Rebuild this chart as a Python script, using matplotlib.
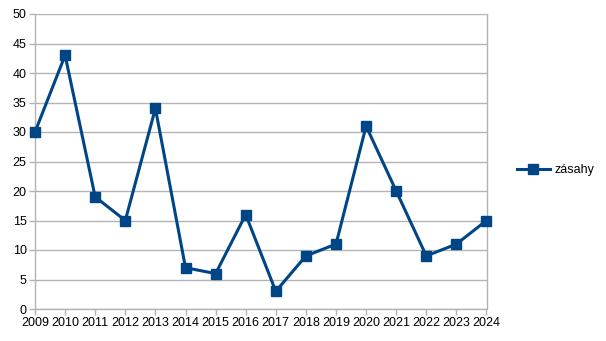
import matplotlib
matplotlib.use("Agg")
import matplotlib.pyplot as plt

years = ["2009", "2010", "2011", "2012", "2013", "2014", "2015", "2016",
         "2017", "2018", "2019", "2020", "2021", "2022", "2023", "2024"]
zasahy = [30, 43, 19, 15, 34, 7, 6, 16, 3, 9, 11, 31, 20, 9, 11, 15]
yticks = [0, 5, 10, 15, 20, 25, 30, 35, 40, 45, 50]

plt.rcParams['font.family'] = ['Liberation Sans', 'DejaVu Sans']
W, H = 606, 341
fig = plt.figure(figsize=(W / 100, H / 100), dpi=100)
ax = fig.add_axes([35 / W, (H - 309) / H, (486.5 - 35) / W, (309 - 14) / H])

color = '#004586'
grey = '#b3b3b3'
x = list(range(len(years)))
ax.plot(x, zasahy, color=color, linewidth=2.2, marker='s', markersize=7,
        markeredgecolor=color, markerfacecolor=color, label='zásahy',
        zorder=3, clip_on=False)

ax.set_xlim(0, len(years) - 1)
ax.set_ylim(0, 50)
ax.set_xticks(x)
ax.set_xticklabels(years)
ax.set_yticks(yticks)
ax.yaxis.grid(True, color=grey, linewidth=1)
ax.set_axisbelow(True)
for s in ['left', 'bottom', 'right']:
    ax.spines[s].set_color(grey)
    ax.spines[s].set_linewidth(1)
ax.spines['top'].set_visible(False)
ax.tick_params(axis='both', colors=grey, labelcolor='black', labelsize=9,
               length=4, width=1, direction='out', pad=2)

leg = fig.legend(loc='center left', bbox_to_anchor=(512 / W, 1 - 170 / H),
                 frameon=False, fontsize=9, handlelength=2.6, handletextpad=0.4,
                 borderaxespad=0)

fig.savefig('out.png', dpi=100)
